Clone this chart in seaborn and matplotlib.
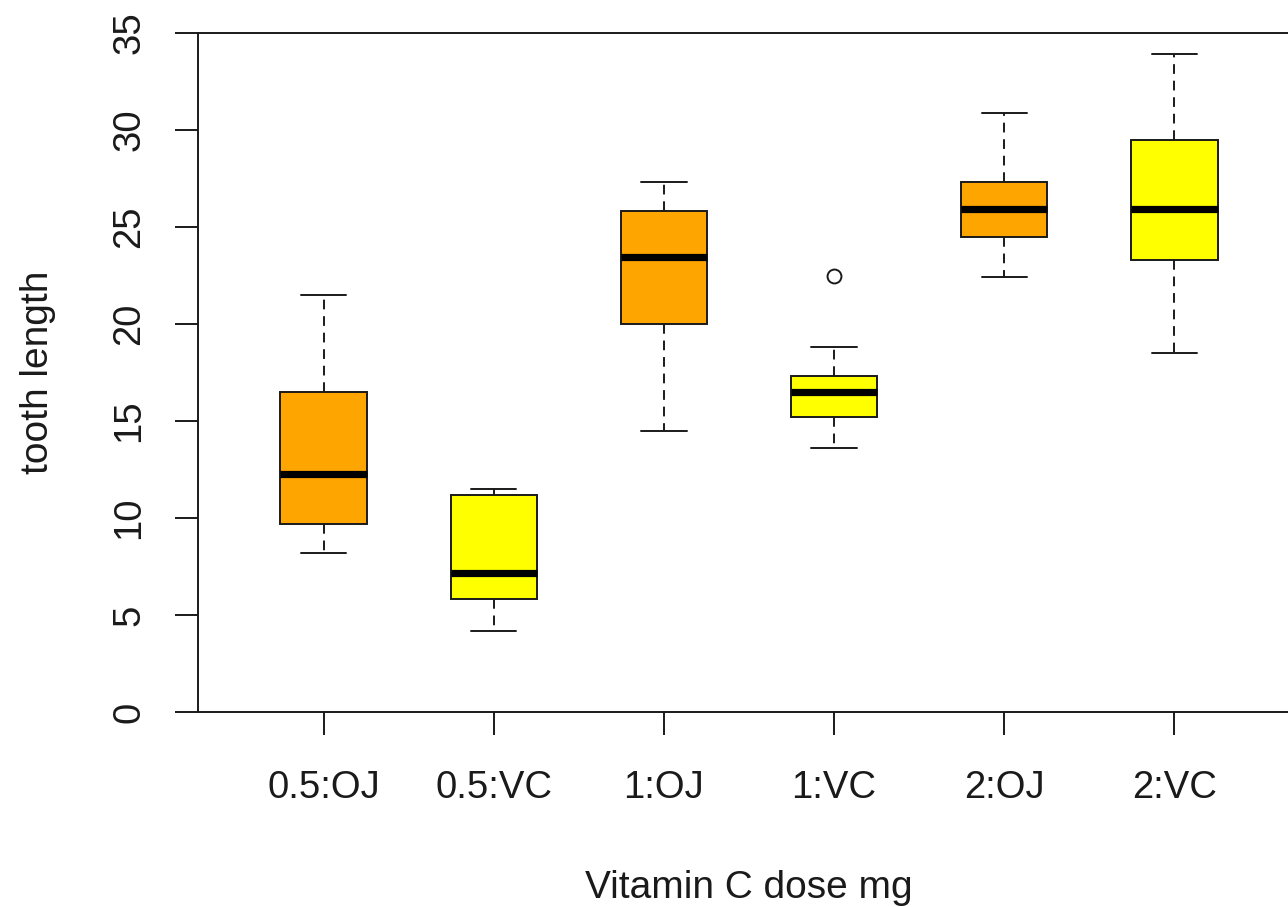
import matplotlib
matplotlib.use("Agg")
import matplotlib.pyplot as plt
import seaborn as sns

# Tooth length summary per dose:supplement group
groups = ["0.5:OJ", "0.5:VC", "1:OJ", "1:VC", "2:OJ", "2:VC"]
whisker_low = [8.2, 4.2, 14.5, 13.6, 22.4, 18.5]
quartile_1 = [9.7, 5.8, 20.0, 15.2, 24.5, 23.3]
medians = [12.25, 7.15, 23.45, 16.5, 25.95, 25.95]
quartile_3 = [16.5, 11.2, 25.8, 17.3, 27.3, 29.5]
whisker_high = [21.5, 11.5, 27.3, 18.8, 30.9, 33.9]
outliers = [[], [], [], [22.5], [], []]
box_colors = ["#FFA500", "#FFFF00", "#FFA500", "#FFFF00", "#FFA500", "#FFFF00"]
y_ticks = [0, 5, 10, 15, 20, 25, 30, 35]

sns.set_theme(style="white")
plt.rcParams["font.family"] = ["Liberation Sans", "DejaVu Sans"]
ink = "#1a1a1a"

fig = plt.figure(figsize=(12.88, 9.07), dpi=100)
ax = fig.add_axes([198 / 1288, 1 - 712 / 907, (1300 - 198) / 1288, (712 - 33) / 907])

stats = []
for i, name in enumerate(groups):
    stats.append(dict(label=name, whislo=whisker_low[i], q1=quartile_1[i],
                      med=medians[i], q3=quartile_3[i], whishi=whisker_high[i],
                      fliers=outliers[i]))

positions = list(range(1, len(groups) + 1))
bp = ax.bxp(stats, positions=positions, widths=0.51, patch_artist=True,
            showfliers=True,
            boxprops=dict(edgecolor=ink, linewidth=1.4),
            medianprops=dict(color="black", linewidth=5.2, solid_capstyle="butt"),
            whiskerprops=dict(color=ink, linewidth=1.4, linestyle=(0, (5, 3.5))),
            capprops=dict(color=ink, linewidth=1.4),
            capwidths=0.265,
            flierprops=dict(marker="o", markerfacecolor="none",
                            markeredgecolor=ink, markersize=10, markeredgewidth=1.4))
for patch, c in zip(bp["boxes"], box_colors):
    patch.set_facecolor(c)

ax.set_xlim(0.26, 6.74)
ax.set_ylim(0, 35)
ax.set_xticks(positions)
ax.set_xticklabels(groups)
ax.set_yticks(y_ticks)
ax.set_yticklabels([str(v) for v in y_ticks], rotation=90, va="center")

for side in ["top", "left", "bottom", "right"]:
    ax.spines[side].set_visible(True)
    ax.spines[side].set_color(ink)
    ax.spines[side].set_linewidth(1.4)

ax.tick_params(axis="both", which="major", direction="out", length=16.5, width=1.4,
               color=ink, labelcolor=ink, labelsize=27.5, bottom=True, left=True)
ax.tick_params(axis="x", pad=25)
ax.tick_params(axis="y", pad=20)

ax.set_xlabel("Vitamin C dose mg", fontsize=28, color=ink, labelpad=46)
ax.set_ylabel("tooth length", fontsize=28, color=ink, labelpad=40)
ax.grid(False)
ax.set_facecolor("white")

fig.savefig("out.png", dpi=100, facecolor="white")
